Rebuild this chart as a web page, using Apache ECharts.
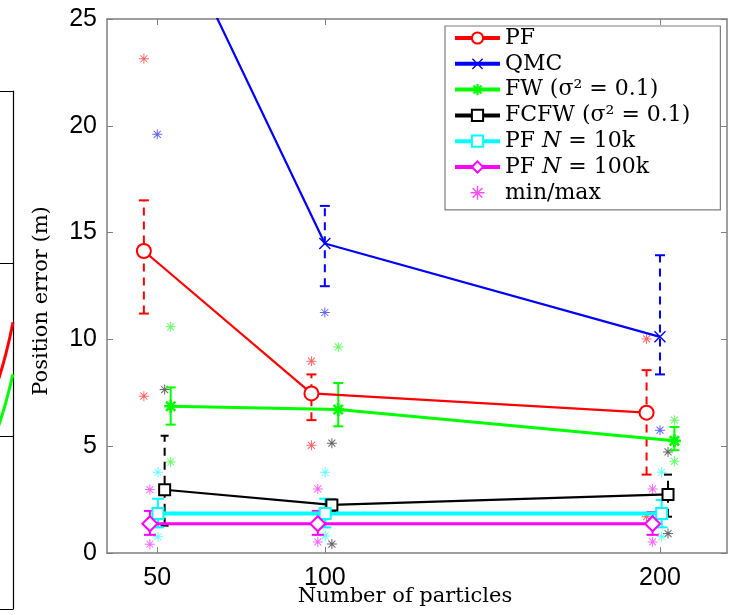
<!DOCTYPE html>
<html>
<head>
<meta charset="utf-8">
<script src="https://cdn.jsdelivr.net/npm/echarts@6/dist/echarts.min.js"></script>
<style>html,body{margin:0;padding:0;background:#fff;}#c{width:731px;height:615px;}</style>
</head>
<body>
<div id="c"></div>
<script>
// ---------- data ----------
const xTicks = [50, 100, 200];

const pfX = [46, 96, 196];
const pfMean = [14.14, 7.47, 6.57];
const pfLo = [11.21, 6.22, 3.67];
const pfHi = [16.51, 8.36, 8.56];
const pfMin = [7.34, 5.04, 1.70];
const pfMax = [23.14, 8.98, 10.02];

const qmcX = [50, 100, 200];
const qmcMean = [30.9, 14.49, 10.12];
const qmcLo = [26.5, 12.49, 8.36];
const qmcHi = [35.5, 16.25, 13.94];
const qmcMin = [19.6, 11.26, 5.75];
const qmcMax = [42, 27.5, 26];

const fwX = [54, 104, 204.3];
const fwMean = [6.87, 6.72, 5.25];
const fwLo = [6.01, 5.93, 4.81];
const fwHi = [7.75, 7.96, 5.90];
const fwMin = [4.26, null, 4.29];
const fwMax = [10.59, 9.65, 6.22];

const fcfwX = [52.2, 102.1, 202.4];
const fcfwMean = [2.96, 2.25, 2.74];
const fcfwLo = [1.28, 1.95, 1.70];
const fcfwHi = [5.49, 2.50, 3.67];
const fcfwMin = [null, 0.42, 0.91];
const fcfwMax = [7.65, 5.14, 4.73];

const pf10kX = [50.2, 100.1, 200.5];
const pf10kMean = [1.85, 1.85, 1.85];
const pf10kLo = [1.2, 1.2, 1.2];
const pf10kHi = [2.54, 2.54, 2.48];
const pf10kMin = [0.76, 0.80, 0.76];
const pf10kMax = [3.78, 3.78, 3.78];

const pf100kX = [47.8, 97.9, 197.8];
const pf100kMean = [1.37, 1.37, 1.37];
const pf100kLo = [0.85, 0.85, 0.85];
const pf100kHi = [1.97, 1.97, 1.92];
const pf100kMin = [0.41, 0.52, 0.52];
const pf100kMax = [2.97, 3.00, 3.00];

// neighbouring (cut-off) panel on the left edge
const sideX = [0.85, 0.93, 1.0];
const sideRed = [1.32, 1.48, 1.66];
const sideGreen = [1.05, 1.20, 1.36];

const legendNames = ['PF', 'QMC', 'FW (σ² = 0.1)', 'FCFW (σ² = 0.1)', 'PF N = 10k', 'PF N = 100k', 'min/max'];

// ---------- symbols ----------
const AST = 'path://M9,0L11,0L11,20L9,20Z M0,9L20,9L20,11L0,11Z M2.3,3.7L3.7,2.3L17.7,16.3L16.3,17.7Z M16.3,2.3L17.7,3.7L3.7,17.7L2.3,16.3Z';
const AST_THICK = 'path://M8,0L12,0L12,20L8,20Z M0,8L20,8L20,12L0,12Z M1.5,4.3L4.3,1.5L18.5,15.7L15.7,18.5Z M15.7,1.5L18.5,4.3L4.3,18.5L1.5,15.7Z';
const XMARK = 'path://M1.6,3.0L3.0,1.6L18.4,17.0L17.0,18.4Z M17.0,1.6L18.4,3.0L3.0,18.4L1.6,17.0Z';

function pairs(xs, ys) { return xs.map((x, i) => [x, ys[i]]); }
function pts(xs, ys) { const r = []; xs.forEach((x, i) => { if (ys[i] != null) r.push([x, ys[i]]); }); return r; }
function triples(xs, lo, hi) { return xs.map((x, i) => [x, lo[i], hi[i]]); }

function errSeries(xs, lo, hi, color, dashed, cap) {
  return {
    type: 'custom', clip: true, z: 3, silent: true,
    xAxisIndex: 0, yAxisIndex: 0,
    data: triples(xs, lo, hi),
    encode: { x: 0, y: [1, 2] },
    renderItem: function (params, api) {
      const x = api.value(0);
      const a = api.coord([x, api.value(1)]);
      const b = api.coord([x, api.value(2)]);
      const cw = cap || 5;
      const st = { stroke: color, lineWidth: 2 };
      return {
        type: 'group',
        children: [
          { type: 'line', shape: { x1: a[0], y1: a[1], x2: b[0], y2: b[1] }, style: { stroke: color, lineWidth: 2, lineDash: dashed ? [8, 6] : null } },
          { type: 'line', shape: { x1: b[0] - cw, y1: b[1], x2: b[0] + cw, y2: b[1] }, style: st },
          { type: 'line', shape: { x1: a[0] - cw, y1: a[1], x2: a[0] + cw, y2: a[1] }, style: st }
        ]
      };
    }
  };
}
function starSeries(xs, mins, maxs, color) {
  return {
    type: 'scatter', clip: true, z: 2, silent: true,
    xAxisIndex: 0, yAxisIndex: 0,
    symbol: AST, symbolSize: 10,
    itemStyle: { color: color, opacity: 0.6 },
    data: pts(xs, mins).concat(pts(xs, maxs))
  };
}
function lineSeries(name, xs, ys, color, width, symbol, size, fillWhite) {
  return {
    name: name, type: 'line', z: 4, clip: true,
    xAxisIndex: 0, yAxisIndex: 0,
    data: pairs(xs, ys),
    symbol: symbol, symbolSize: size, showSymbol: true,
    lineStyle: { color: color, width: width },
    itemStyle: fillWhite ? { color: color, borderColor: color, borderWidth: 2 } : { color: color },
    emphasis: { disabled: true }
  };
}

const serif = 'DejaVu Serif';
const sans = 'Liberation Sans';
const grayAxis = '#7f7f7f';

const chart = echarts.init(document.getElementById('c'), null, { renderer: 'canvas' });

const option = {
  animation: false,
  backgroundColor: '#fff',
  grid: [
    { left: 107, right: 4, top: 19, bottom: 62, outerBoundsMode: 'none', containLabel: false },
    { left: -87, width: 100, top: 91, bottom: 6, outerBoundsMode: 'none', containLabel: false }
  ],
  xAxis: [
    {
      gridIndex: 0, type: 'value', min: 35, max: 220,
      name: 'Number of particles', nameLocation: 'middle', nameGap: 33, nameMoveOverlap: false,
      nameTextStyle: { fontFamily: serif, fontSize: 21, color: '#000', padding: [0, 24, 0, 0] },
      axisLine: { onZero: false, lineStyle: { color: grayAxis, width: 1.5 } },
      axisTick: { inside: true, length: 6, customValues: xTicks, lineStyle: { color: grayAxis } },
      axisLabel: { customValues: xTicks, fontFamily: sans, fontSize: 25, color: '#000', margin: 13 },
      splitLine: { show: false }
    },
    {
      gridIndex: 0, type: 'value', min: 35, max: 220, position: 'top',
      axisLine: { onZero: false, lineStyle: { color: grayAxis, width: 1.5 } },
      axisTick: { inside: true, length: 6, customValues: xTicks, lineStyle: { color: grayAxis } },
      axisLabel: { show: false },
      splitLine: { show: false }
    },
    {
      gridIndex: 1, type: 'value', min: 0, max: 1, show: false
    }
  ],
  yAxis: [
    {
      gridIndex: 0, type: 'value', min: 0, max: 25, interval: 5,
      name: 'Position error (m)', nameLocation: 'middle', nameGap: 55, nameRotate: 90, nameMoveOverlap: false,
      nameTextStyle: { fontFamily: serif, fontSize: 21, color: '#000', padding: [0, 30, 0, 0] },
      axisLine: { show: true, onZero: false, lineStyle: { color: grayAxis, width: 1.5 } },
      axisTick: { show: true, inside: true, length: 6, lineStyle: { color: grayAxis } },
      axisLabel: { fontFamily: sans, fontSize: 25, color: '#000', margin: 10 },
      splitLine: { show: false }
    },
    {
      gridIndex: 0, type: 'value', min: 0, max: 25, interval: 5, position: 'right',
      axisLine: { show: true, onZero: false, lineStyle: { color: grayAxis, width: 1.5 } },
      axisTick: { show: true, inside: true, length: 6, lineStyle: { color: grayAxis } },
      axisLabel: { show: false },
      splitLine: { show: false }
    },
    {
      gridIndex: 1, type: 'value', min: 0, max: 3, interval: 1, position: 'right',
      axisLine: { show: true, onZero: false, lineStyle: { color: '#000', width: 1.2 } },
      axisTick: { show: false }, axisLabel: { show: false },
      splitLine: { show: true, lineStyle: { color: '#000', width: 1.2 } }
    }
  ],
  legend: {
    data: legendNames,
    orient: 'vertical',
    left: 445, top: 26,
    padding: [1, 30, 6, 8],
    itemGap: 3.8,
    itemWidth: 45, itemHeight: 14,
    backgroundColor: '#fff',
    borderColor: grayAxis, borderWidth: 1.2,
    selectedMode: false,
    lineStyle: { width: 4 },
    textStyle: {
      fontFamily: serif, fontSize: 22, color: '#000', lineHeight: 22,
      rich: { i: { fontFamily: serif, fontSize: 22, fontStyle: 'italic', color: '#000', lineHeight: 22 } }
    },
    formatter: function (name) {
      if (name.indexOf('N = ') >= 0) return name.replace('N', '{i|N}');
      return name;
    }
  },
  series: [
    // cut-off neighbouring panel
    { type: 'line', xAxisIndex: 2, yAxisIndex: 2, data: pairs(sideX, sideRed), symbol: 'none', smooth: true, lineStyle: { color: '#ff0000', width: 3 }, silent: true },
    { type: 'line', xAxisIndex: 2, yAxisIndex: 2, data: pairs(sideX, sideGreen), symbol: 'none', smooth: true, lineStyle: { color: '#00ff00', width: 3 }, silent: true },

    starSeries(pfX, pfMin, pfMax, '#ff0000'),
    starSeries(qmcX, qmcMin, qmcMax, '#0000ff'),
    starSeries(fwX, fwMin, fwMax, '#00ff00'),
    starSeries(fcfwX, fcfwMin, fcfwMax, '#000000'),
    starSeries(pf10kX, pf10kMin, pf10kMax, '#00ffff'),
    starSeries(pf100kX, pf100kMin, pf100kMax, '#ff00ff'),

    errSeries(pfX, pfLo, pfHi, '#ff0000', true, 5),
    errSeries(qmcX, qmcLo, qmcHi, '#0000ff', true, 5),
    errSeries(fwX, fwLo, fwHi, '#00ff00', false, 5),
    errSeries(fcfwX, fcfwLo, fcfwHi, '#000000', true, 4),
    errSeries(pf10kX, pf10kLo, pf10kHi, '#00ffff', false, 6),
    errSeries(pf100kX, pf100kLo, pf100kHi, '#ff00ff', false, 6),

    lineSeries('PF', pfX, pfMean, '#ff0000', 2.2, 'emptyCircle', 14, true),
    lineSeries('QMC', qmcX, qmcMean, '#0000ff', 2.2, XMARK, 12, false),
    lineSeries('FW (σ² = 0.1)', fwX, fwMean, '#00ff00', 3, AST_THICK, 13, false),
    lineSeries('FCFW (σ² = 0.1)', fcfwX, fcfwMean, '#000000', 2.2, 'emptyRect', 11, true),
    lineSeries('PF N = 10k', pf10kX, pf10kMean, '#00ffff', 4, 'emptyRect', 11, true),
    lineSeries('PF N = 100k', pf100kX, pf100kMean, '#ff00ff', 3, 'emptyDiamond', 15, true),
    {
      name: 'min/max', type: 'scatter', xAxisIndex: 0, yAxisIndex: 0,
      symbol: AST, symbolSize: 10, itemStyle: { color: '#ff00ff', opacity: 0.7 }, data: []
    }
  ]
};
chart.setOption(option);
</script>
</body>
</html>
